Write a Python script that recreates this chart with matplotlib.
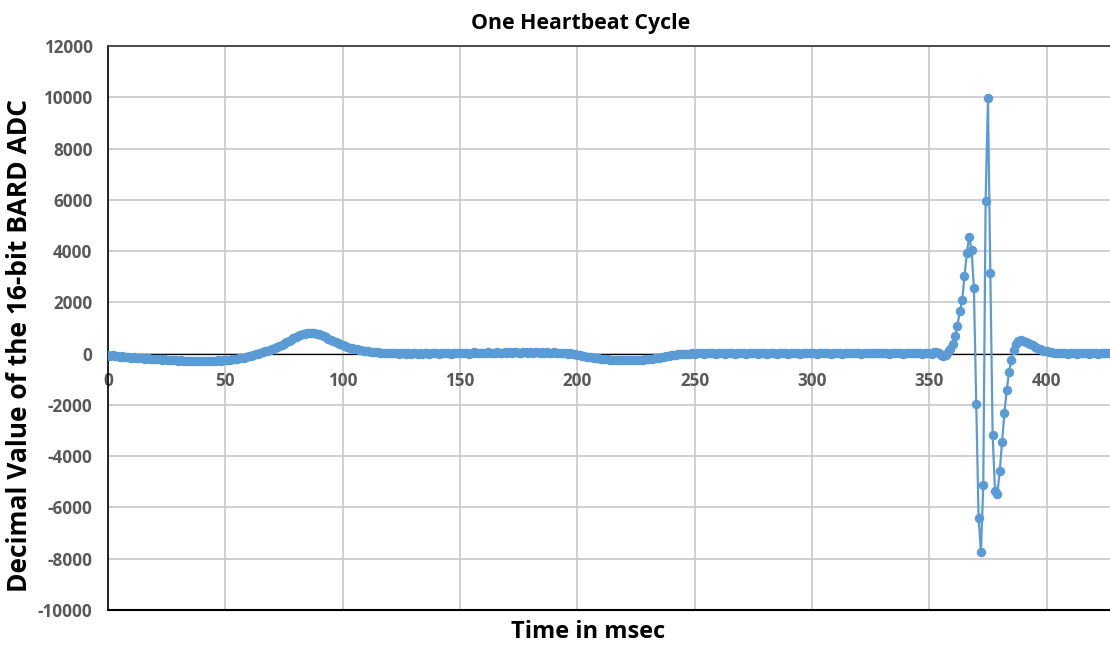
import matplotlib
matplotlib.use("Agg")
import matplotlib.pyplot as plt
import numpy as np

plt.rcParams["axes.unicode_minus"] = False

# ADC samples, one per millisecond
adc_values = [
    -60, -80, -70, -90, -100, -110, -100, -120, -130, -140,
    -150, -140, -160, -170, -160, -180, -190, -180, -200, -190,
    -210, -200, -220, -230, -220, -240, -250, -240, -260, -250,
    -270, -260, -280, -270, -290, -280, -300, -290, -300, -290,
    -300, -290, -300, -280, -290, -270, -280, -260, -270, -250,
    -250, -240, -230, -220, -210, -190, -180, -160, -150, -120,
    -100, -80, -50, -20, 0, 30, 60, 90, 120, 150,
    170, 210, 250, 300, 340, 390, 440, 500, 550, 600,
    650, 690, 730, 760, 780, 800, 810, 800, 790, 770,
    750, 720, 680, 640, 590, 540, 490, 440, 400, 370,
    340, 300, 270, 240, 210, 190, 170, 150, 130, 110,
    100, 90, 80, 70, 60, 50, 45, 40, 30, 25,
    20, 30, 10, 20, 0, 30, 10, -10, 20, 0,
    10, 30, 0, 20, -10, 30, 10, 0, 20, 10,
    30, 0, 20, 40, 10, 20, 0, 30, 10, 20,
    40, 10, 30, 20, 0, 30, 50, 20, 10, 40,
    30, 20, 50, 30, 10, 40, 60, 30, 20, 50,
    40, 60, 30, 50, 70, 40, 30, 60, 50, 40,
    60, 30, 50, 70, 40, 50, 30, 60, 40, 30,
    50, 20, 40, 30, 10, 30, 0, 20, -10, -30,
    -50, -70, -80, -100, -110, -130, -140, -160, -170, -180,
    -190, -200, -210, -220, -230, -240, -240, -250, -260, -250,
    -260, -250, -260, -250, -240, -250, -240, -230, -230, -220,
    -210, -200, -190, -180, -160, -150, -130, -110, -90, -80,
    -60, -50, -40, -30, -20, -10, -20, 0, -10, 10,
    0, 20, 10, 30, 0, 20, 10, 30, 20, 0,
    20, 10, 30, 0, 20, 40, 10, 0, 30, 20,
    10, 30, 0, 20, 10, 30, 20, 0, 10, 30,
    20, 0, 30, 10, 20, 0, 10, 30, 20, 10,
    0, 20, 30, 10, 20, 0, 30, 10, 20, 40,
    10, 20, 0, 30, 10, 20, 40, 10, 0, 20,
    30, 10, 20, 0, 30, 20, 10, 40, 20, 10,
    30, 0, 20, 10, 40, 20, 30, 10, 20, 40,
    20, 10, 30, 0, 20, 30, 10, 40, 20, 0,
    30, 10, 20, 40, 10, 30, 20, 0, 10, 30,
    20, 0, 60, 80, 20, -60, -80, -40, 60, 200,
    380, 688, 1078, 1652, 2082, 3020, 3930, 4543, 4063, 2578,
    -1953, -6406, -7750, -5117, 5949, 9957, 3148, -3191, -5340, -5469,
    -4586, -3465, -2320, -1406, -703, -262, 150, 380, 500, 520,
    500, 470, 430, 380, 330, 280, 230, 190, 150, 120,
    90, 70, 50, 40, 30, 20, 30, 10, 20, 0,
    20, 10, 30, 0, 20, 10, 30, 20, 0, 10,
    20, 30, 0, 20, 10, 30, 40, 20, 10,
]
time_ms = np.arange(len(adc_values))

x_ticks = [0, 50, 100, 150, 200, 250, 300, 350, 400]
y_ticks = list(range(-10000, 12001, 2000))

font = ["Open Sans", "DejaVu Sans"]
tick_color = "#595959"
line_color = "#5B9BD5"

fig = plt.figure(figsize=(11.1, 6.47), dpi=100)
ax = fig.add_axes([0.0972, 0.0572, 0.9028, 0.8715])

ax.plot(time_ms, adc_values, color=line_color, linewidth=1.6,
        marker="o", markersize=5.8, zorder=3)

ax.set_xlim(0, 427)
ax.set_ylim(-10000, 12000)
ax.set_xticks(x_ticks)
ax.set_yticks(y_ticks)
ax.grid(True, color="#c8c8c8", linewidth=1.2)
ax.set_axisbelow(True)

# x axis sits on the zero line, frame closed at the bottom
ax.spines["bottom"].set_position(("data", 0))
ax.spines["bottom"].set_linewidth(0.9)
ax.spines["right"].set_visible(False)
ax.spines["top"].set_color("#404040")
ax.spines["top"].set_linewidth(1.3)
ax.spines["left"].set_linewidth(1.2)
ax.axhline(-10000, color="black", linewidth=1.5, clip_on=False)

ax.tick_params(axis="x", length=0, pad=13)
ax.tick_params(axis="y", length=0, pad=11)
for lab in ax.get_xticklabels() + ax.get_yticklabels():
    lab.set_family(font)
    lab.set_fontweight("bold")
    lab.set_fontsize(12.3)
    lab.set_color(tick_color)

fig.text(0.523, 1 - 29 / 647, "One Heartbeat Cycle", ha="center", va="baseline",
         family=font, fontweight="bold", fontsize=15.3)
fig.text(0.53, 1 - 638 / 647, "Time in msec", ha="center", va="baseline",
         family=font, fontweight="bold", fontsize=17)
fig.text(0.018, 1 - 345 / 647, "Decimal Value of the 16-bit BARD ADC", ha="center",
         va="center", rotation=90, family=font, fontweight="bold", fontsize=19)

fig.savefig("out.png", dpi=100)
